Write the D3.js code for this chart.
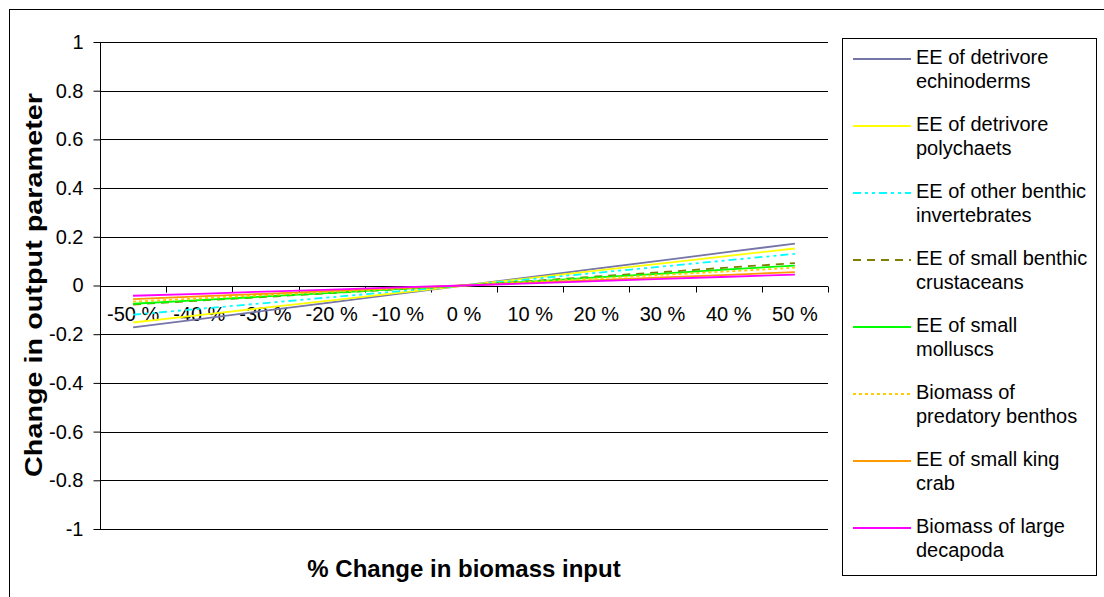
<!DOCTYPE html>
<html><head><meta charset="utf-8">
<script src="https://cdn.jsdelivr.net/npm/d3@7"></script>
<style>body{margin:0;background:#fff;}svg{display:block;font-family:"Liberation Sans",Arial,sans-serif;}</style>
</head><body><svg id="c" width="1104" height="597"></svg>
<script>
const categories = ["-50 %","-40 %","-30 %","-20 %","-10 %","0 %","10 %","20 %","30 %","40 %","50 %"];
const yTicks = [1,0.8,0.6,0.4,0.2,0,-0.2,-0.4,-0.6,-0.8,-1];
const seriesNames = ["EE of detrivore|echinoderms","EE of detrivore|polychaets","EE of other benthic|invertebrates","EE of small benthic|crustaceans","EE of small|molluscs","Biomass of|predatory benthos","EE of small king|crab","Biomass of large|decapoda"];
const echinoderms = [-0.172,-0.138,-0.103,-0.069,-0.034,0,0.034,0.069,0.103,0.138,0.172];
const polychaets = [-0.152,-0.122,-0.091,-0.061,-0.030,0,0.030,0.061,0.091,0.122,0.152];
const invertebrates = [-0.120,-0.096,-0.072,-0.048,-0.024,0,0.026,0.052,0.078,0.104,0.130];
const crustaceans = [-0.078,-0.062,-0.047,-0.031,-0.016,0,0.018,0.037,0.055,0.074,0.092];
const molluscs = [-0.075,-0.060,-0.045,-0.030,-0.015,0,0.016,0.033,0.049,0.066,0.082];
const predatory = [-0.066,-0.053,-0.040,-0.026,-0.013,0,0.015,0.029,0.044,0.058,0.073];
const kingcrab = [-0.056,-0.045,-0.034,-0.022,-0.011,0,0.011,0.022,0.033,0.044,0.055];
const decapoda = [-0.042,-0.034,-0.025,-0.017,-0.008,0,0.009,0.018,0.027,0.036,0.045];
const seriesValues = [echinoderms,polychaets,invertebrates,crustaceans,molluscs,predatory,kingcrab,decapoda];
const colors = ["#7575a8","#ffff00","#00ffff","#808000","#00ff00","#ffcc00","#ff9900","#ff00ff"];
const dashes = [null,null,"8,4,3,4,3,4","8,6",null,"3,3",null,null];
const FONT = "Liberation Sans, Arial, sans-serif";

const svg = d3.select("#c");
svg.append("rect").attr("x",9.5).attr("y",9.5).attr("width",1100).attr("height",600).attr("fill","#fff").attr("stroke","#000").attr("stroke-width",1);

const L=100,R=828,T=42,B=529;
const x = d3.scaleBand().domain(categories).range([L,R]);
const y = d3.scaleLinear().domain([-1,1]).range([B,T]);

// gridlines
svg.append("g").selectAll("line").data(yTicks).join("line")
  .attr("x1",L).attr("x2",R).attr("y1",d=>Math.round(y(d))+0.5).attr("y2",d=>Math.round(y(d))+0.5)
  .attr("stroke","#000").attr("stroke-width",1);

// y axis
const ya = svg.append("g").attr("transform",`translate(${L+0.5},0)`)
  .call(d3.axisLeft(y).tickValues(yTicks).tickSize(7).tickPadding(10).tickFormat(d=>String(d)));
ya.select(".domain").attr("stroke","#000").attr("d",`M0,${T}V${B}`);
ya.selectAll(".tick line").attr("stroke","#000");
ya.selectAll(".tick text").attr("font-size",20).attr("fill","#000").attr("font-family",FONT);

// x axis at y=0
const y0 = Math.round(y(0))+0.5;
const xa = svg.append("g").attr("transform",`translate(0,${y0})`)
  .call(d3.axisBottom(x).tickSize(0).tickPadding(20));
xa.select(".domain").remove();
xa.selectAll(".tick text").attr("font-size",20).attr("fill","#000").attr("font-family",FONT);
const bounds = d3.range(categories.length+1).map(i=>L+i*x.step());
svg.append("g").selectAll("line").data(bounds).join("line")
  .attr("x1",d=>Math.round(d)+0.5).attr("x2",d=>Math.round(d)+0.5).attr("y1",y0).attr("y2",y0+6).attr("stroke","#000");

// lines
const line = d3.line().x((d,i)=>x(categories[i])+x.bandwidth()/2).y(d=>y(d));
const g = svg.append("g");
seriesValues.forEach((vals,k)=>{
  g.append("path").datum(vals).attr("d",line).attr("fill","none")
   .attr("stroke",colors[k]).attr("stroke-width",1.8)
   .attr("stroke-dasharray",dashes[k]);
});

// legend
svg.append("rect").attr("x",842.5).attr("y",38.5).attr("width",254).attr("height",537).attr("fill","none").attr("stroke","#000");
seriesNames.forEach((n,k)=>{
  const cy = 59 + k*67;
  svg.append("line").attr("x1",853).attr("x2",911).attr("y1",cy).attr("y2",cy)
    .attr("stroke",colors[k]).attr("stroke-width",1.8).attr("stroke-dasharray",dashes[k]);
  const parts = n.split("|");
  const t = svg.append("text").attr("x",916).attr("y",cy+5).attr("font-size",20).attr("fill","#000");
  t.append("tspan").attr("x",916).text(parts[0]);
  t.append("tspan").attr("x",916).attr("dy",24).text(parts[1]);
});

// titles
svg.append("text").attr("x",464).attr("y",577).attr("text-anchor","middle").attr("font-size",24).attr("font-weight","bold").text("% Change in biomass input");
svg.append("text").attr("transform","translate(42,285) rotate(-90)").attr("text-anchor","middle").attr("font-size",24).attr("font-weight","bold")
  .attr("textLength",384).attr("lengthAdjust","spacingAndGlyphs").text("Change in output parameter");
</script></body></html>
